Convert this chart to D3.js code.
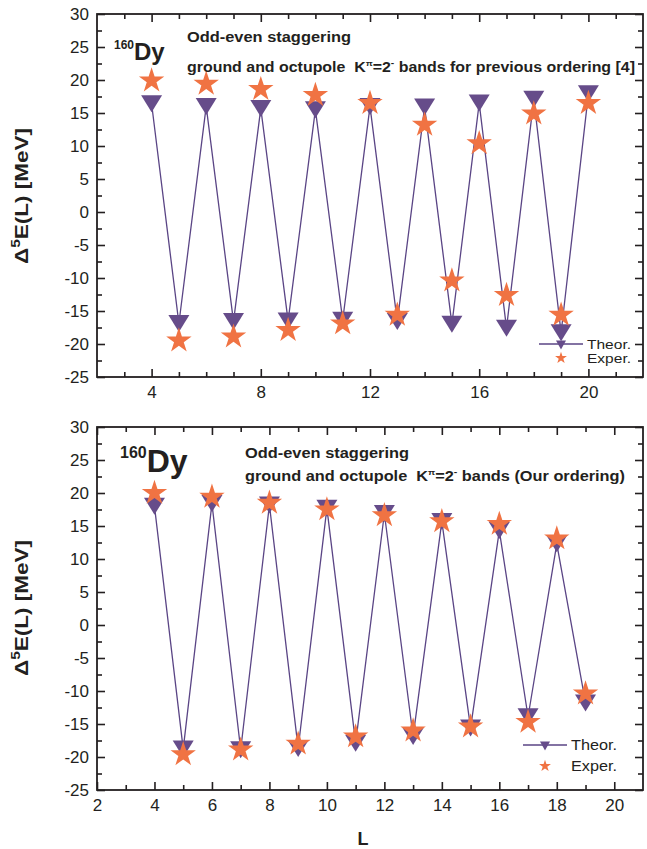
<!DOCTYPE html>
<html>
<head>
<meta charset="utf-8">
<script src="https://cdn.jsdelivr.net/npm/d3@7"></script>
<style>
  body { margin: 0; background: #fff; }
  svg { display: block; }
  text { font-family: "Liberation Sans", Arial, Helvetica, sans-serif; fill: #231f20; }
</style>
</head>
<body>
<script>
// Angular momentum L and Δ5E(L) staggering values (MeV), 160Dy

// Previous ordering [4]
const prevL     = [4, 5, 6, 7, 8, 9, 10, 11, 12, 13, 14, 15, 16, 17, 18, 19, 20];
const prevTheor = [16.4, -16.9, 16.0, -16.6, 15.7, -16.5, 15.5, -16.4, 16.0, -16.6, 15.9, -17.0, 16.5, -17.6, 17.1, -18.3, 17.9];
const prevExper = [19.9, -19.5, 19.4, -18.9, 18.6, -17.9, 17.7, -16.9, 16.5, -15.6, 13.2, -10.4, 10.4, -12.6, 14.9, -15.6, 16.5];

// Our ordering
const ourL      = [4, 5, 6, 7, 8, 9, 10, 11, 12, 13, 14, 15, 16, 17, 18, 19];
const ourTheor  = [18.0, -18.8, 18.4, -18.9, 18.2, -18.7, 17.7, -17.9, 16.9, -16.9, 15.7, -15.6, 14.3, -13.9, 12.3, -11.8];
const ourExper  = [20.0, -19.6, 19.4, -18.9, 18.5, -18.0, 17.5, -16.9, 16.6, -16.0, 15.7, -15.4, 15.3, -14.7, 13.1, -10.4];

// Axis tick values
const yMajorTicks   = [30, 25, 20, 15, 10, 5, 0, -5, -10, -15, -20, -25];
const yMinorTicks   = [27.5, 22.5, 17.5, 12.5, 7.5, 2.5, -2.5, -7.5, -12.5, -17.5, -22.5];
const topXMajor     = [4, 8, 12, 16, 20];
const topXMinor     = [3, 5, 6, 7, 9, 10, 11, 13, 14, 15, 17, 18, 19, 21];
const bottomXMajor  = [2, 4, 6, 8, 10, 12, 14, 16, 18, 20];
const bottomXMinor  = [3, 5, 7, 9, 11, 13, 15, 17, 19];

const W = 647, H = 849;
const PURPLE = "#664c8a";
const LINE = "#5a4585";
const ORANGE = "#f07343";

const svg = d3.select("body").append("svg")
  .attr("width", W).attr("height", H)
  .attr("viewBox", `0 0 ${W} ${H}`);

// Down-pointing triangle centred on its bounding box
function triDown(w, h) {
  return `M${-w / 2},${-h / 2}L${w / 2},${-h / 2}L0,${h / 2}Z`;
}
const starPath = d3.symbol(d3.symbolStar, 200)();
const starSmall = d3.symbol(d3.symbolStar, 44)();

function panel(cfg) {
  const g = svg.append("g");
  const x = d3.scaleLinear().domain(cfg.xDomain).range([cfg.left, cfg.right]);
  const y = d3.scaleLinear().domain([-25, 30]).range([cfg.bottom, cfg.top]);

  const fmt = d => String(d);

  // bottom axis (labels + inward ticks)
  const gb = g.append("g").attr("transform", `translate(0,${cfg.bottom})`)
    .call(d3.axisBottom(x).tickValues(cfg.xMajor).tickSizeInner(-8).tickSizeOuter(0).tickPadding(9).tickFormat(fmt));
  gb.append("g").call(d3.axisBottom(x).tickValues(cfg.xMinor).tickSizeInner(-5).tickSizeOuter(0).tickFormat(""));
  // top axis (ticks only)
  const gt = g.append("g").attr("transform", `translate(0,${cfg.top})`)
    .call(d3.axisTop(x).tickValues(cfg.xMajor).tickSizeInner(-8).tickSizeOuter(0).tickFormat(""));
  gt.append("g").call(d3.axisTop(x).tickValues(cfg.xMinor).tickSizeInner(-5).tickSizeOuter(0).tickFormat(""));
  // left axis
  const gl = g.append("g").attr("transform", `translate(${cfg.left},0)`)
    .call(d3.axisLeft(y).tickValues(yMajorTicks).tickSizeInner(-8).tickSizeOuter(0).tickPadding(8).tickFormat(fmt));
  gl.append("g").call(d3.axisLeft(y).tickValues(yMinorTicks).tickSizeInner(-5).tickSizeOuter(0).tickFormat(""));
  // right axis
  const gr = g.append("g").attr("transform", `translate(${cfg.right},0)`)
    .call(d3.axisRight(y).tickValues(yMajorTicks).tickSizeInner(-8).tickSizeOuter(0).tickFormat(""));
  gr.append("g").call(d3.axisRight(y).tickValues(yMinorTicks).tickSizeInner(-5).tickSizeOuter(0).tickFormat(""));

  g.selectAll(".domain").remove();
  g.selectAll(".tick line").attr("stroke", "#231f20").attr("stroke-width", 1.6);
  g.selectAll(".tick text").attr("font-size", 17).attr("fill", "#231f20")
    .attr("font-family", "\"Liberation Sans\", Arial, sans-serif");

  // frame
  g.append("rect")
    .attr("x", cfg.left).attr("y", cfg.top)
    .attr("width", cfg.right - cfg.left).attr("height", cfg.bottom - cfg.top)
    .attr("fill", "none").attr("stroke", "#231f20").attr("stroke-width", 1.8);

  // theory line
  const pts = cfg.L.map((l, i) => [l, cfg.theor[i]]);
  g.append("path").datum(pts)
    .attr("fill", "none").attr("stroke", LINE).attr("stroke-width", 1.3)
    .attr("d", d3.line().x(d => x(d[0])).y(d => y(d[1])));

  // theory markers
  g.selectAll(".tri").data(pts).join("path")
    .attr("class", "tri")
    .attr("transform", d => `translate(${x(d[0])},${y(d[1])})`)
    .attr("d", triDown(21, 17))
    .attr("fill", PURPLE);

  // experimental markers
  const ex = cfg.L.map((l, i) => [l, cfg.exper[i]]);
  g.selectAll(".star").data(ex).join("path")
    .attr("class", "star")
    .attr("transform", d => `translate(${x(d[0])},${y(d[1])})`)
    .attr("d", starPath)
    .attr("fill", ORANGE);

  // y-axis title
  const yt = g.append("text")
    .attr("transform", `translate(${cfg.ytitleX},${cfg.ytitleY}) rotate(-90)`)
    .attr("text-anchor", "middle")
    .attr("font-size", 19).attr("font-weight", "bold")
    .attr("textLength", 136).attr("lengthAdjust", "spacingAndGlyphs");
  yt.append("tspan").text("Δ");
  yt.append("tspan").attr("font-size", 13).attr("dy", -8).text("5");
  yt.append("tspan").attr("dy", 8).text("E(L) [MeV]");

  // nucleus label
  const nuc = g.append("text").attr("x", cfg.nucX).attr("y", cfg.nucY).attr("font-weight", "bold");
  nuc.append("tspan").attr("font-size", cfg.nucSup).attr("dy", -cfg.nucSize * 0.45).text("160");
  nuc.append("tspan").attr("font-size", cfg.nucSize).attr("dy", cfg.nucSize * 0.45).text("Dy");

  // caption lines
  g.append("text").attr("x", cfg.capX).attr("y", cfg.cap1Y)
    .attr("font-size", 14).attr("font-weight", "bold")
    .attr("textLength", cfg.cap1Len).attr("lengthAdjust", "spacingAndGlyphs")
    .text("Odd-even staggering");
  const c2 = g.append("text").attr("x", cfg.capX).attr("y", cfg.cap2Y)
    .attr("font-size", 14).attr("font-weight", "bold")
    .attr("textLength", cfg.cap2Len).attr("lengthAdjust", "spacingAndGlyphs");
  c2.append("tspan").text("ground and octupole\u00A0\u00A0K");
  c2.append("tspan").attr("font-size", 8).attr("dy", -6).text("π");
  c2.append("tspan").attr("dy", 6).text("=2");
  c2.append("tspan").attr("font-size", 9).attr("dy", -6).text("-");
  c2.append("tspan").attr("dy", 6).text(" " + cfg.cap2Tail);

  // legend
  const lg = g.append("g");
  const lx = cfg.legX, ly1 = cfg.legY1, ly2 = cfg.legY2;
  lg.append("line").attr("x1", lx).attr("x2", lx + cfg.legLine).attr("y1", ly1).attr("y2", ly1)
    .attr("stroke", LINE).attr("stroke-width", 1.4);
  lg.append("path").attr("transform", `translate(${lx + cfg.legLine / 2},${ly1 + 1})`)
    .attr("d", triDown(10, 9)).attr("fill", PURPLE);
  lg.append("path").attr("transform", `translate(${lx + cfg.legLine / 2},${ly2})`)
    .attr("d", starSmall).attr("fill", ORANGE);
  lg.append("text").attr("x", lx + cfg.legLine + 4).attr("y", ly1 + cfg.legFont * 0.36)
    .attr("font-size", cfg.legFont).attr("textLength", cfg.legTextLen).attr("lengthAdjust", "spacingAndGlyphs")
    .text("Theor.");
  lg.append("text").attr("x", lx + cfg.legLine + 4).attr("y", ly2 + cfg.legFont * 0.36)
    .attr("font-size", cfg.legFont).attr("textLength", cfg.legTextLen).attr("lengthAdjust", "spacingAndGlyphs")
    .text("Exper.");

  return { x, y, g };
}

panel({
  left: 97, right: 643, top: 14, bottom: 377,
  xDomain: [2, 22], xMajor: topXMajor, xMinor: topXMinor,
  L: prevL, theor: prevTheor, exper: prevExper,
  ytitleX: 28, ytitleY: 196,
  nucX: 114, nucY: 60, nucSize: 24, nucSup: 12,
  capX: 187, cap1Y: 42, cap2Y: 72, cap1Len: 164, cap2Len: 448,
  cap2Tail: "bands for previous ordering [4]",
  legX: 539, legLine: 44, legY1: 344, legY2: 358, legFont: 12.5, legTextLen: 44
});

panel({
  left: 97, right: 643, top: 427, bottom: 790,
  xDomain: [2, 21], xMajor: bottomXMajor, xMinor: bottomXMinor,
  L: ourL, theor: ourTheor, exper: ourExper,
  ytitleX: 28, ytitleY: 608,
  nucX: 120, nucY: 472, nucSize: 32, nucSup: 16,
  capX: 245, cap1Y: 458, cap2Y: 481, cap1Len: 164, cap2Len: 380,
  cap2Tail: "bands (Our ordering)",
  legX: 523, legLine: 44, legY1: 745, legY2: 766, legFont: 15, legTextLen: 46
});

// x-axis title
svg.append("text").attr("x", 363).attr("y", 845)
  .attr("text-anchor", "middle").attr("font-size", 18).attr("font-weight", "bold")
  .text("L");
</script>
</body>
</html>
